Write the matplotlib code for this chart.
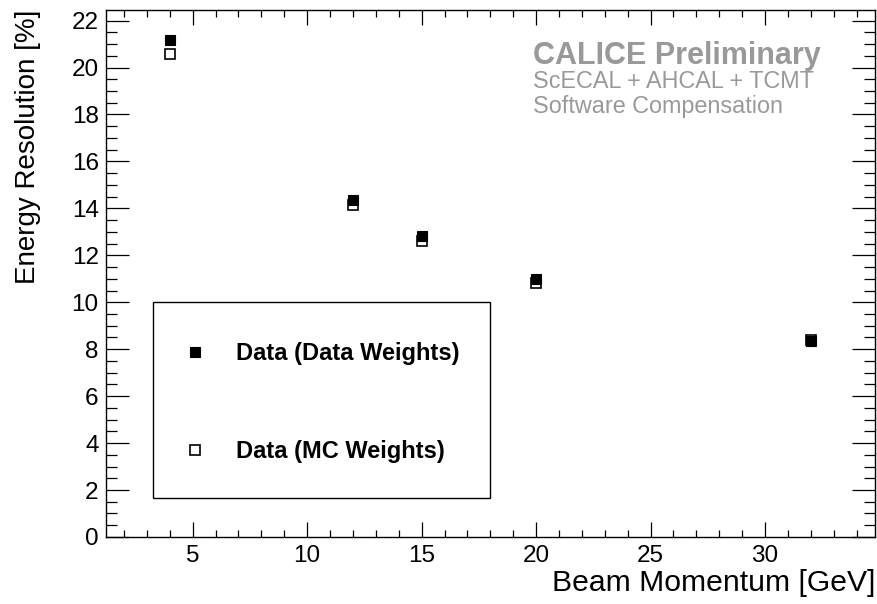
"""Energy resolution vs beam momentum, CALICE-style plot."""

import matplotlib

matplotlib.use("Agg")

import matplotlib.pyplot as plt
from matplotlib.patches import Rectangle
from matplotlib.ticker import MultipleLocator

plt.rcParams["font.family"] = ["Liberation Sans", "DejaVu Sans"]

beam_momentum = [4, 12, 15, 20, 32]
res_data_weights = [21.17, 14.37, 12.82, 11.00, 8.37]
res_mc_weights = [20.58, 14.13, 12.62, 10.83, 8.40]

label_data = "Data (Data Weights)"
label_mc = "Data (MC Weights)"
gray = "#999999"

fig = plt.figure(figsize=(8.77, 6.04), dpi=100)
ax = fig.add_axes([0.1205, 0.111, 0.8772, 0.8724])

ax.plot(beam_momentum, res_data_weights, "s", color="black", markersize=7.6,
        markeredgewidth=0.8, label=label_data, zorder=3)
ax.plot(beam_momentum, res_mc_weights, "s", markerfacecolor="none",
        markeredgecolor="black", markersize=7.6, markeredgewidth=1.2,
        label=label_mc, zorder=4)

ax.set_xlim(1.2, 34.8)
ax.set_ylim(0, 22.45)

ax.xaxis.set_major_locator(MultipleLocator(5))
ax.xaxis.set_minor_locator(MultipleLocator(1))
ax.yaxis.set_major_locator(MultipleLocator(2))
ax.yaxis.set_minor_locator(MultipleLocator(0.5))

ax.tick_params(which="both", direction="in", top=True, right=True, width=0.9,
               labelsize=17.5, color="black")
ax.tick_params(axis="x", which="major", length=10.8, pad=6)
ax.tick_params(axis="x", which="minor", length=5.2)
ax.tick_params(axis="y", which="major", length=16.5, pad=5)
ax.tick_params(axis="y", which="minor", length=8)
for spine in ax.spines.values():
    spine.set_linewidth(1.0)

ax.set_xlabel("Beam Momentum [GeV]", fontsize=21.7, loc="right")
ax.xaxis.set_label_coords(1.0, -0.061)
ax.set_ylabel("Energy Resolution [%]", fontsize=20, loc="top")
ax.yaxis.set_label_coords(-0.084, 1.0)

# legend box
ax.add_patch(Rectangle((0.0619, 0.0734), 0.4376, 0.372, transform=ax.transAxes,
                       fill=False, edgecolor="black", linewidth=1.0, zorder=5))
ax.legend(loc="center left", bbox_to_anchor=(0.0851, 0.2545), frameon=False,
          borderpad=0, numpoints=1, handlelength=1.0, handletextpad=1.25,
          labelspacing=3.17, prop={"weight": "bold", "size": 17})

ax.text(0.5553, 0.8985, "CALICE Preliminary", transform=ax.transAxes,
        fontsize=22, fontweight="bold", color=gray, va="baseline")
ax.text(0.5553, 0.8520, "ScECAL + AHCAL + TCMT", transform=ax.transAxes,
        fontsize=16.8, color=gray, va="baseline")
ax.text(0.5553, 0.8045, "Software Compensation", transform=ax.transAxes,
        fontsize=16.8, color=gray, va="baseline")

fig.savefig("out.png", dpi=100)
plt.close(fig)
